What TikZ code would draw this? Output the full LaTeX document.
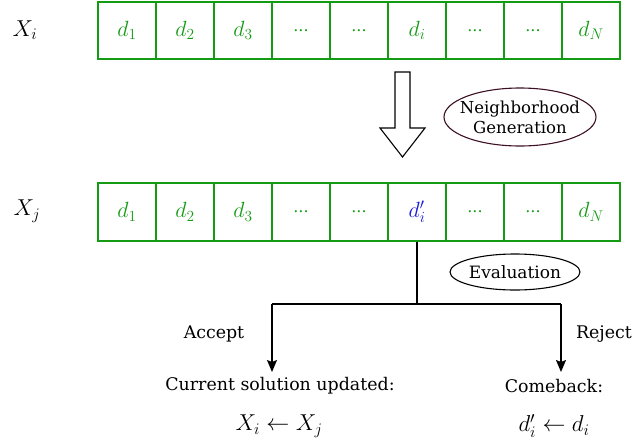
\RequirePackage{fix-cm}
\documentclass[tikz,border=0pt]{standalone}
\usepackage{fontspec}
\setmainfont{DejaVu Serif}
\usetikzlibrary{shapes.geometric,arrows.meta}
\definecolor{cellgreen}{RGB}{20,155,20}
\definecolor{dblue}{RGB}{25,25,220}
\definecolor{maroon}{RGB}{60,15,35}
\newcommand{\dts}{{\fontsize{16}{18}\selectfont ...}}
\tikzset{
  cell/.style={draw=cellgreen, line width=1.2pt, minimum width=58pt, minimum height=57pt, inner sep=0pt, text=cellgreen, font=\fontsize{22}{24}\selectfont},
  lbl/.style={font=\fontsize{17.4}{20}\selectfont, inner sep=1pt},
  mlbl/.style={font=\fontsize{23}{25}\selectfont, inner sep=1pt},
  oval/.style={ellipse, line width=1.1pt, inner sep=0pt},
  conn/.style={line width=1.2pt, draw=black},
  arr/.style={conn, -{Stealth[length=12pt,width=10pt,inset=2pt]}},
}
\begin{document}
\begin{tikzpicture}[x=1pt,y=-1pt]
\useasboundingbox (0,0) rectangle (633,445);
% row labels
\node[mlbl] (xi) at (25,30) {$X_i$};
\node[mlbl] (xj) at (27,211) {$X_j$};
% top row
\foreach \k/\t in {0/$d_1$,1/$d_2$,2/$d_3$,3/\dts,4/\dts,5/$d_i$,6/\dts,7/\dts,8/$d_N$}
  \node[cell] (a\k) at ({127+58*\k},30.5) {\t};
% bottom row
\foreach \k/\t in {0/$d_1$,1/$d_2$,2/$d_3$,3/\dts,4/\dts,5/{\color{dblue}$d'_i$},6/\dts,7/\dts,8/$d_N$}
  \node[cell, minimum height=58pt] (b\k) at ({127+58*\k},212) {\t};
% block arrow
\draw[line width=1.1pt, fill=white] (395,72) -- (410,72) -- (410,128) -- (425,128) -- (402.5,157) -- (380,128) -- (395,128) -- cycle;
% ellipses
\node[oval, draw=maroon, minimum width=152pt, minimum height=58pt] (ng) at (520,117) {};
\node[font=\fontsize{16.5}{20}\selectfont, align=center, inner sep=0pt] (ngt) at (ng.center) {Neighborhood\\Generation};
\node[oval, draw=black, minimum width=130pt, minimum height=36pt] (ev) at (515,272) {};
\node[font=\fontsize{17}{19}\selectfont, inner sep=0pt] (evt) at (ev.center) {Evaluation};
% connectors
\coordinate (L) at (272,304);
\coordinate (R) at (561,304);
\coordinate (La) at (272,372);
\coordinate (Ra) at (561,372);
\draw[conn] (b5.south) -- (b5.south |- L);
\draw[conn] (L) -- (R);
\draw[arr] (L) -- (La);
\draw[arr] (R) -- (Ra);
% labels
\node[lbl] (acc) at (214,334) {Accept};
\node[lbl] (rej) at (604,334) {Reject};
\node[lbl] (cur) at (280,386) {Current solution updated:};
\node[lbl] (cb) at (554,386) {Comeback:};
\node[mlbl] (upd) at (279,426) {$X_i \leftarrow X_j$};
\node[mlbl] (back) at (554,426) {$d'_i \leftarrow d_i$};
\end{tikzpicture}
\end{document}
